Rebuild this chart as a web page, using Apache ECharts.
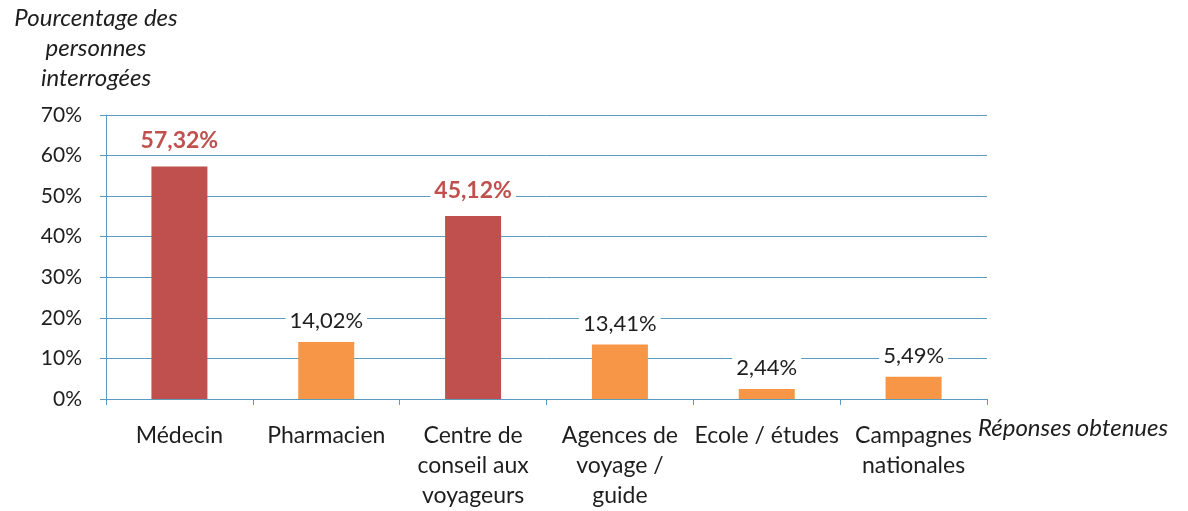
<!DOCTYPE html>
<html>
<head>
<meta charset="utf-8">
<script src="https://cdn.jsdelivr.net/npm/echarts@6/dist/echarts.min.js"></script>
<style>
  html, body { margin: 0; padding: 0; background: #fff; }
  #chart { width: 1188px; height: 511px; }
</style>
</head>
<body>
<div id="chart"></div>
<script>
// data
const categories = [
  'Médecin',
  'Pharmacien',
  'Centre de\nconseil aux\nvoyageurs',
  'Agences de\nvoyage /\nguide',
  'Ecole / études',
  'Campagnes\nnationales'
]
const values = [57.32, 14.02, 45.12, 13.41, 2.44, 5.49]
const highlighted = [true, false, true, false, false, false]
const yTicks = [0, 10, 20, 30, 40, 50, 60, 70]

const red = '#c0504d'
const orange = '#f79646'
const gridBlue = '#5b9bc0'
const textColor = '#1e1e1e'
const font = 'Lato, "Open Sans", sans-serif'

const myChart = echarts.init(document.getElementById('chart'))

const seriesData = values.map((v, i) => ({
  value: v,
  itemStyle: { color: highlighted[i] ? red : orange },
  label: highlighted[i]
    ? { color: red, fontWeight: 'bold', distance: 14, fontSize: 23 }
    : { color: textColor, fontWeight: 'normal' }
}))

const option = {
  animation: false,
  textStyle: { fontFamily: font },
  grid: {
    left: 106,
    right: 201,
    top: 115,
    bottom: 108
  },
  graphic: [
    {
      type: 'text',
      x: 96,
      y: 3,
      style: {
        text: 'Pourcentage des\npersonnes\ninterrogées',
        fontFamily: font,
        fontStyle: 'italic',
        fontSize: 24,
        lineHeight: 30,
        fill: textColor,
        align: 'center',
        verticalAlign: 'top'
      }
    }
  ],
  xAxis: {
    type: 'category',
    data: categories,
    name: 'Réponses obtenues',
    nameLocation: 'end',
    nameGap: -12,
    nameTextStyle: {
      fontFamily: font,
      fontStyle: 'italic',
      fontSize: 24,
      color: textColor,
      align: 'left',
      verticalAlign: 'top',
      padding: [17, 0, 0, 0]
    },
    axisLine: { lineStyle: { color: gridBlue, width: 1 } },
    axisTick: { show: true, length: 6, lineStyle: { color: gridBlue } },
    axisLabel: {
      interval: 0,
      margin: 22,
      fontSize: 23,
      lineHeight: 30,
      color: textColor,
      fontFamily: font
    }
  },
  yAxis: {
    type: 'value',
    min: yTicks[0],
    max: yTicks[yTicks.length - 1],
    interval: 10,
    axisLine: { show: true, lineStyle: { color: gridBlue, width: 1 } },
    axisTick: { show: true, length: 6, lineStyle: { color: gridBlue } },
    splitLine: { show: true, lineStyle: { color: gridBlue, width: 1 } },
    axisLabel: {
      margin: 24,
      fontSize: 21,
      color: textColor,
      fontFamily: font,
      formatter: v => v + '%'
    }
  },
  series: [
    {
      type: 'bar',
      data: seriesData,
      barWidth: 56,
      label: {
        show: true,
        position: 'top',
        distance: 10,
        fontSize: 22,
        fontFamily: font,
        backgroundColor: '#fff',
        padding: [0, 4],
        formatter: p => p.value.toFixed(2).replace('.', ',') + '%'
      }
    }
  ]
}

myChart.setOption(option)

window.addEventListener('resize', () => {
  myChart.resize()
})
</script>
</body>
</html>
